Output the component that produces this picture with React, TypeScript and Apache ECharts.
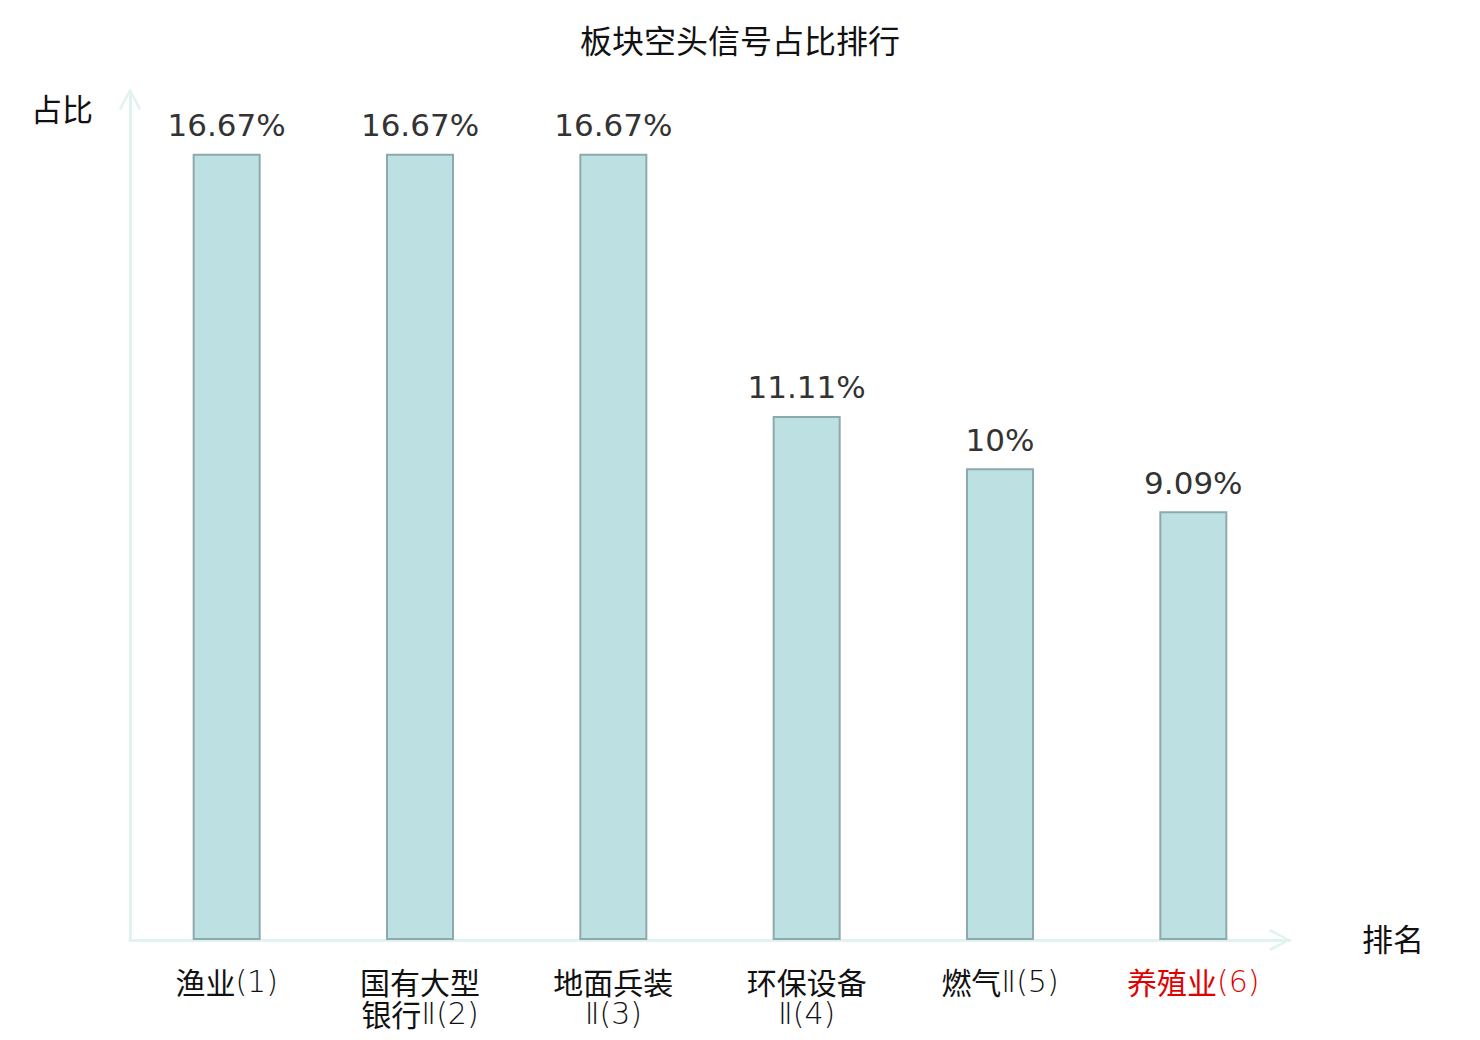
import React, { useEffect, useRef } from "react";
import * as echarts from "echarts";

const categories = ["渔业(1)", "国有大型\n银行Ⅱ(2)", "地面兵装\nⅡ(3)", "环保设备\nⅡ(4)", "燃气Ⅱ(5)", "养殖业(6)"];
const values = [16.67, 16.67, 16.67, 11.11, 10, 9.09];
const highlighted = [false, false, false, false, false, true];

const AXIS_COLOR = "#e0f3f0";
const CHEVRON = "path://M10,0 L20,18.5 L18,20 L10,4 L2,20 L0,18.5 Z";
const FONT = "'DejaVu Sans', 'Noto Sans CJK SC', sans-serif";
const CJK_RE = /[\u4e00-\u9fff]/;

function toRich(label: string, red: boolean): string {
  const suffix = red ? "r" : "";
  return label
    .split("\n")
    .map((line) => {
      let out = "";
      let buf = "";
      let cur: string | null = null;
      for (const ch of line) {
        const t = CJK_RE.test(ch) ? "c" : "l";
        if (cur !== null && t !== cur) {
          out += `{${cur}${suffix}|${buf}}`;
          buf = "";
        }
        cur = t;
        buf += ch;
      }
      if (buf) out += `{${cur}${suffix}|${buf}}`;
      return out;
    })
    .join("\n");
}

export default function App() {
  const ref = useRef<HTMLDivElement>(null);
  useEffect(() => {
    if (!ref.current) return;
    const chart = echarts.init(ref.current, undefined, { renderer: "svg" });
    const base = { fontSize: 30, lineHeight: 32 };
    chart.setOption({
      animation: false,
      backgroundColor: "#ffffff",
      title: {
        text: "板块空头信号占比排行",
        left: "center",
        top: 21,
        textStyle: { fontSize: 32, fontWeight: "normal", color: "#111", fontFamily: FONT },
      },
      grid: { left: 130, right: 190, top: 91, bottom: 100, containLabel: false },
      xAxis: {
        type: "category",
        data: categories,
        name: "排名",
        nameLocation: "end",
        nameGap: 72,
        nameTextStyle: { fontSize: 31, color: "#111", fontFamily: FONT, padding: [4, 0, 0, 0] },
        axisLine: {
          show: true,
          symbol: ["none", CHEVRON],
          symbolSize: [22, 22],
          symbolOffset: [0, -10],
          lineStyle: { color: AXIS_COLOR, width: 3 },
        },
        axisTick: { show: false },
        axisLabel: {
          ...base,
          color: "#111",
          margin: 25,
          interval: 0,
          fontFamily: FONT,
          formatter: (v: string, i: number) => toRich(v, highlighted[i]),
          rich: {
            c: { ...base, fontFamily: "Noto Sans CJK SC", fontWeight: "normal", color: "#111" },
            l: { ...base, fontFamily: "DejaVu Sans", fontWeight: 200, color: "#111" },
            cr: { ...base, fontFamily: "Noto Sans CJK SC", fontWeight: "normal", color: "#e00000" },
            lr: { ...base, fontFamily: "DejaVu Sans", fontWeight: 200, color: "#e00000" },
          },
        },
        splitLine: { show: false },
      },
      yAxis: {
        type: "value",
        min: 0,
        max: 18,
        name: "占比",
        nameLocation: "end",
        nameGap: -19,
        nameTextStyle: {
          fontSize: 31,
          color: "#111",
          align: "right",
          verticalAlign: "middle",
          padding: [0, 37, 0, 0],
          fontFamily: FONT,
        },
        axisLine: {
          show: true,
          symbol: ["none", CHEVRON],
          symbolSize: [22, 22],
          symbolOffset: [0, -8],
          lineStyle: { color: AXIS_COLOR, width: 3 },
        },
        axisTick: { show: false },
        axisLabel: { show: false },
        splitLine: { show: false },
      },
      series: [
        {
          type: "bar",
          data: values,
          barWidth: 68,
          itemStyle: { color: "#bde1e3", borderColor: "#8caaab", borderWidth: 2 },
          label: {
            show: true,
            position: "top",
            distance: 13,
            fontSize: 31,
            color: "#333",
            fontFamily: "DejaVu Sans",
            formatter: (p: any) => `${p.value}%`,
          },
        },
      ],
    });
    return () => chart.dispose();
  }, []);
  return (
    <div
      ref={ref}
      style={{ position: "fixed", left: 0, top: 0, width: 1480, height: 1040, background: "#fff" }}
    />
  );
}
